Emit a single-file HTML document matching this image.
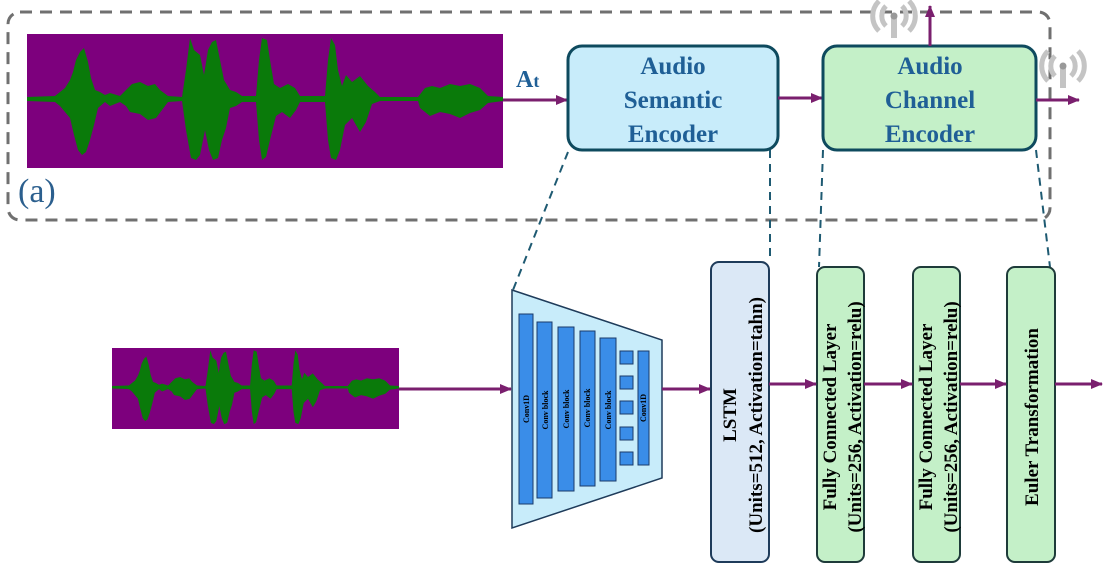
<!DOCTYPE html>
<html><head><meta charset="utf-8"><style>
html,body{margin:0;padding:0;background:#fff;}
svg{display:block;}
.b{font-family:"Liberation Serif",serif;font-weight:bold;}
</style></head><body>
<svg width="1104" height="570" viewBox="0 0 1104 570" xmlns="http://www.w3.org/2000/svg">
<defs>
<marker id="ar" markerWidth="12" markerHeight="10" refX="11" refY="5" orient="auto" markerUnits="userSpaceOnUse">
<path d="M0,0 L12,5 L0,10 z" fill="#7a1f6e"/></marker>
<g id="wave">
<polygon fill="#0a7a0a" points="27,97 55,96 60,92 65,88 70,80 73,72 76,60 80,52 84,48 88,62 91,78 95,90 100,92 105,95 110,93 120,96 126,90 132,84 140,82 148,86 155,84 160,90 168,96 182,97 186,70 190,38 194,50 200,55 204,75 208,50 212,42 216,40 220,60 224,80 230,90 236,92 242,96 256,96 259,60 262,38 267,40 270,60 274,84 280,88 288,84 295,88 300,96 325,96 328,60 331,38 335,45 338,70 342,86 346,75 352,82 360,76 368,86 375,92 380,97 418,97 425,88 432,86 440,88 450,84 460,86 470,84 480,88 488,96 503,97 503,101 488,103 480,110 470,113 460,118 450,114 440,112 430,116 420,108 418,101 380,101 372,104 366,122 360,132 352,118 345,125 340,150 336,160 331,158 328,140 325,102 300,102 296,110 290,118 282,112 276,116 270,140 266,157 262,160 259,140 256,102 242,102 236,106 230,108 226,128 222,140 218,158 213,160 209,150 205,130 200,155 196,160 191,158 186,130 182,101 168,102 162,110 156,118 148,120 140,114 130,112 126,106 120,102 110,106 105,102 98,108 94,125 90,140 86,152 82,155 78,150 74,135 70,118 65,112 60,106 55,102 27,101"/>
</g>
<g id="ant" fill="none" stroke="#c4c4c4" stroke-width="5">
<path d="M-8,-14 A14,14 0 0 0 -8,6"/><path d="M8,-14 A14,14 0 0 1 8,6"/>
<path d="M-15,-19 A21,21 0 0 0 -15,11"/><path d="M15,-19 A21,21 0 0 1 15,11"/>
<line x1="0" y1="-4" x2="0" y2="18" stroke-width="6"/><circle cx="0" cy="-4" r="3.5" fill="#999" stroke="none"/>
</g>
</defs>

<rect x="8" y="12" width="1042" height="208" rx="12" fill="none" stroke="#707070" stroke-width="3" stroke-dasharray="12,8"/>

<rect x="27" y="34" width="476" height="134" fill="#7d007d"/>
<use href="#wave"/>
<line x1="503" y1="100" x2="567" y2="100" stroke="#7a1f6e" stroke-width="3" marker-end="url(#ar)"/>
<text x="516" y="87" class="b" font-size="24" fill="#1f5f96">A<tspan font-size="18">t</tspan></text>

<rect x="568" y="46" width="210" height="104" rx="14" fill="#c8ecfa" stroke="#0e4a5e" stroke-width="3"/>
<text class="b" font-size="25" fill="#1f5f96" text-anchor="middle"><tspan x="673" y="74">Audio</tspan><tspan x="673" y="108">Semantic</tspan><tspan x="673" y="142">Encoder</tspan></text>
<line x1="778" y1="98" x2="822" y2="98" stroke="#7a1f6e" stroke-width="3" marker-end="url(#ar)"/>

<rect x="823" y="46" width="213" height="104" rx="14" fill="#c4f0c8" stroke="#0e4a5e" stroke-width="3"/>
<text class="b" font-size="25" fill="#1f5f96" text-anchor="middle"><tspan x="930" y="74">Audio</tspan><tspan x="930" y="108">Channel</tspan><tspan x="930" y="142">Encoder</tspan></text>
<line x1="1036" y1="100" x2="1079" y2="100" stroke="#7a1f6e" stroke-width="3" marker-end="url(#ar)"/>
<line x1="930" y1="46" x2="930" y2="6" stroke="#7a1f6e" stroke-width="3" marker-end="url(#ar)"/>
<use href="#ant" transform="translate(894,20)"/>
<use href="#ant" transform="translate(1063,70)"/>

<text x="18" y="202" font-family="Liberation Serif,serif" font-size="34" fill="#2b5f8e">(a)</text>

<g stroke="#1e5a72" stroke-width="2" stroke-dasharray="8,6">
<line x1="568" y1="152" x2="513" y2="290"/>
<line x1="770" y1="150" x2="770" y2="262"/>
<line x1="823" y1="150" x2="819" y2="267"/>
<line x1="1036" y1="150" x2="1050" y2="267"/>
</g>

<rect x="112" y="348" width="287" height="81" fill="#7d007d"/>
<use href="#wave" transform="translate(112,348) scale(0.603,0.604) translate(-27,-34)"/>
<line x1="399" y1="389" x2="511" y2="389" stroke="#7a1f6e" stroke-width="3" marker-end="url(#ar)"/>

<polygon points="512,290 662,340 662,478 512,528" fill="#c8ecfa" stroke="#1e3b5a" stroke-width="1.5"/>
<g fill="#3a8de8" stroke="#1a3a6a" stroke-width="1">
<rect x="519" y="314" width="14" height="190"/>
<rect x="537" y="322" width="15" height="176"/>
<rect x="558" y="327" width="16" height="164"/>
<rect x="580" y="331" width="15" height="155"/>
<rect x="600" y="338" width="16" height="143"/>
<rect x="620" y="351" width="13" height="13"/>
<rect x="620" y="376" width="13" height="13"/>
<rect x="620" y="401" width="13" height="13"/>
<rect x="620" y="427" width="13" height="13"/>
<rect x="620" y="452" width="13" height="13"/>
<rect x="638" y="351" width="11" height="114"/>
</g>
<g class="b" font-size="8" fill="#000" text-anchor="middle">
<text transform="translate(529,409) rotate(-90)">Conv1D</text>
<text transform="translate(548,410) rotate(-90)">Conv block</text>
<text transform="translate(569,409) rotate(-90)">Conv block</text>
<text transform="translate(590,408) rotate(-90)">Conv block</text>
<text transform="translate(611,410) rotate(-90)">Conv block</text>
<text transform="translate(646,408) rotate(-90)">Conv1D</text>
</g>
<line x1="662" y1="389" x2="710" y2="389" stroke="#7a1f6e" stroke-width="3" marker-end="url(#ar)"/>

<rect x="711" y="262" width="58" height="300" rx="8" fill="#dbe8f6" stroke="#1e3b5a" stroke-width="2"/>
<rect x="817" y="267" width="47" height="295" rx="8" fill="#c4f0c8" stroke="#1e3b3a" stroke-width="2"/>
<rect x="913" y="267" width="47" height="295" rx="8" fill="#c4f0c8" stroke="#1e3b3a" stroke-width="2"/>
<rect x="1007" y="267" width="48" height="295" rx="8" fill="#c4f0c8" stroke="#1e3b3a" stroke-width="2"/>
<g class="b" font-size="19" fill="#000" text-anchor="middle">
<text transform="translate(741,415) rotate(-90)"><tspan x="0" y="-5">LSTM</tspan><tspan x="0" y="21">(Units=512, Activation=tahn)</tspan></text>
<text transform="translate(841,417) rotate(-90)"><tspan x="0" y="-5">Fully Connected Layer</tspan><tspan x="0" y="20">(Units=256, Activation=relu)</tspan></text>
<text transform="translate(937,417) rotate(-90)"><tspan x="0" y="-5">Fully Connected Layer</tspan><tspan x="0" y="20">(Units=256, Activation=relu)</tspan></text>
<text transform="translate(1038,417) rotate(-90)">Euler Transformation</text>
</g>
<g stroke="#7a1f6e" stroke-width="3" marker-end="url(#ar)">
<line x1="769" y1="384" x2="816" y2="384"/>
<line x1="864" y1="384" x2="912" y2="384"/>
<line x1="960" y1="384" x2="1006" y2="384"/>
<line x1="1055" y1="384" x2="1102" y2="384"/>
</g>
</svg>
</body></html>
